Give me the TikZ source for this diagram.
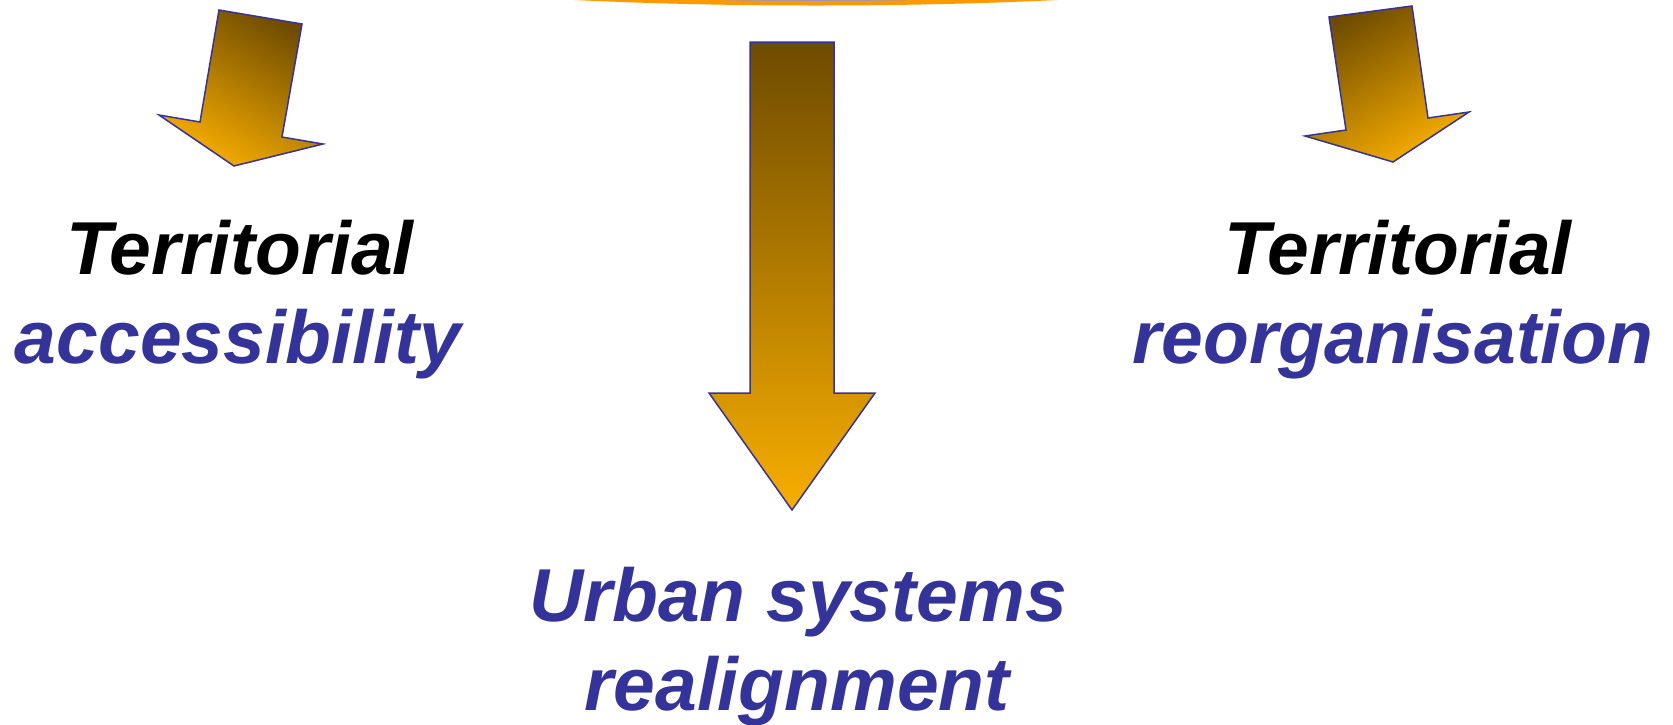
\documentclass[tikz,border=0pt]{standalone}
\usepackage{fontspec}
\setmainfont{Liberation Sans}
\definecolor{txtblue}{RGB}{51,51,153}
\definecolor{lineblue}{RGB}{51,51,153}
\definecolor{arrdark}{RGB}{110,75,0}
\definecolor{arrlight}{RGB}{248,174,0}
\definecolor{ringorange}{RGB}{255,153,0}
\definecolor{ringfill}{RGB}{150,150,200}
\begin{document}
\begin{tikzpicture}[x=1pt,y=-1pt,
  blockarrow/.style={draw=lineblue, line width=1.5pt, line join=miter,
    top color=arrdark, bottom color=arrlight},
  txtlabel/.style={font=\fontsize{75}{89}\selectfont\bfseries\itshape,
    inner sep=0pt, anchor=base},
]
\useasboundingbox (0,0) rectangle (1673,724);

% orange ring, only its lower rim shows at the top edge
\begin{scope}
  \clip (0,0) rectangle (1673,724);
  \draw[ringorange, line width=4.5pt, fill=ringfill]
    (816,-61.75) ellipse [x radius=598, y radius=65];
\end{scope}

% block arrows
\path[blockarrow, shading angle=-30]
  (219,10) -- (302,24) -- (282,137) -- (323,144) -- (234,166)
  -- (159,115) -- (200,122) -- cycle;
\path[blockarrow]
  (750,42) -- (834,42) -- (834,393) -- (875,393) -- (792,510)
  -- (709,393) -- (750,393) -- cycle;
\path[blockarrow, shading angle=30]
  (1329,17) -- (1412,6) -- (1428,118) -- (1469,112) -- (1393,162)
  -- (1305,136) -- (1346,130) -- cycle;

% labels
\node[txtlabel, black]   (terrL)   at (240,274)  {Territorial};
\node[txtlabel, txtblue] (accL)    at (238,363)  {accessibility};
\node[txtlabel, black]   (terrR)   at (1398,274) {Territorial};
\node[txtlabel, txtblue] (reorgR)  at (1393,363) {reorganisation};
\node[txtlabel, txtblue] (urban)   at (798,621)  {Urban systems};
\node[txtlabel, txtblue] (realign) at (797,710)  {realignment};
\end{tikzpicture}
\end{document}
